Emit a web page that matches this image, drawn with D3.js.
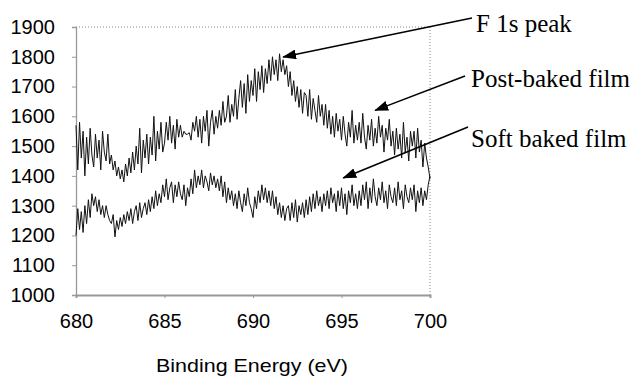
<!DOCTYPE html>
<html>
<head>
<meta charset="utf-8">
<script src="https://cdn.jsdelivr.net/npm/d3@7/dist/d3.min.js"></script>
<style>
  html, body { margin: 0; padding: 0; background: #fff; }
  svg { display: block; }
</style>
</head>
<body>
<div id="chart"></div>
<script>
// binding energy, 680 to 700 eV in 0.1 eV steps
const energies = d3.range(0, 201).map(i => 680 + i / 10);

const xTicks = [680, 685, 690, 695, 700];
const yTicks = [1000, 1100, 1200, 1300, 1400, 1500, 1600, 1700, 1800, 1900];

// post-baked film (upper trace, with F 1s peak)
const postBaked = [
  1570, 1420, 1580, 1460, 1550, 1400, 1530, 1440, 1560, 1470,
  1430, 1540, 1460, 1520, 1420, 1550, 1480, 1450, 1540, 1440,
  1470, 1420, 1450, 1400, 1430, 1390, 1420, 1380, 1440, 1400,
  1460, 1410, 1480, 1420, 1500, 1440, 1560, 1410, 1520, 1460,
  1540, 1440, 1530, 1470, 1600, 1450, 1550, 1490, 1580, 1480,
  1510, 1580, 1520, 1600, 1510, 1570, 1490, 1590, 1530, 1570,
  1530, 1550, 1540, 1540, 1545, 1520, 1580, 1550, 1600, 1530,
  1590, 1510, 1600, 1550, 1620, 1500, 1580, 1620, 1540, 1600,
  1560, 1620, 1570, 1650, 1580, 1600, 1670, 1580, 1640, 1600,
  1690, 1590, 1660, 1720, 1630, 1710, 1610, 1740, 1650, 1720,
  1670, 1760, 1650, 1750, 1690, 1770, 1680, 1760, 1710, 1790,
  1720, 1800, 1740, 1790, 1720, 1810, 1750, 1790, 1740, 1770,
  1700, 1750, 1670, 1720, 1650, 1700, 1630, 1690, 1610, 1680,
  1670, 1600, 1690, 1590, 1660, 1620, 1580, 1670, 1600, 1640,
  1570, 1640, 1560, 1620, 1540, 1600, 1530, 1610, 1550, 1590,
  1520, 1600, 1540, 1500, 1580, 1530, 1620, 1510, 1570, 1520,
  1580, 1510, 1610, 1530, 1490, 1570, 1520, 1590, 1500, 1560,
  1510, 1600, 1530, 1570, 1480, 1560, 1520, 1590, 1500, 1550,
  1470, 1560, 1490, 1540, 1460, 1580, 1480, 1530, 1450, 1550,
  1500, 1550, 1460, 1560, 1480, 1520, 1430, 1510, 1460, 1430,
  1390
];

// soft baked film (lower trace)
const softBaked = [
  1200, 1290, 1220, 1280, 1210, 1300, 1240, 1320, 1260, 1340,
  1300, 1330, 1280, 1320, 1270, 1300, 1260, 1300, 1270, 1250,
  1240, 1270, 1195, 1250, 1220, 1260, 1230, 1270, 1240, 1280,
  1250, 1290, 1240, 1280, 1300, 1250, 1310, 1260, 1290, 1310,
  1270, 1320, 1280, 1330, 1290, 1350, 1300, 1340, 1310, 1370,
  1330, 1390, 1320, 1360, 1380, 1310, 1370, 1330, 1380, 1340,
  1320, 1370, 1300, 1360, 1330, 1390, 1340, 1420, 1360, 1400,
  1370, 1420, 1360, 1400, 1380, 1350, 1410, 1370, 1400, 1360,
  1390, 1350, 1400, 1330, 1380, 1310, 1360, 1320, 1350, 1300,
  1340, 1290, 1350, 1310, 1280, 1340, 1300, 1360, 1310, 1290,
  1260, 1330, 1290, 1350, 1310, 1370, 1320, 1360, 1310, 1350,
  1300, 1350, 1290, 1330, 1270, 1310, 1260, 1300, 1250, 1290,
  1300, 1250, 1310, 1260, 1320, 1245, 1300, 1270, 1310, 1260,
  1320, 1270, 1330, 1280, 1340, 1290, 1350, 1300, 1330, 1280,
  1340, 1300, 1350, 1290, 1360, 1310, 1340, 1280, 1350, 1300,
  1360, 1290, 1340, 1270, 1350, 1310, 1370, 1300, 1340, 1290,
  1350, 1300, 1370, 1320, 1380, 1290, 1360, 1310, 1390, 1330,
  1300, 1360, 1320, 1380, 1310, 1350, 1290, 1370, 1330, 1310,
  1360, 1300, 1380, 1320, 1350, 1290, 1370, 1330, 1310, 1360,
  1320, 1370, 1280, 1350, 1310, 1360, 1300, 1350, 1320, 1370,
  1400
];

// annotations: label text and arrow tip in data units
const notes = [
  { label: 'F 1s peak',        tipE: 691.7, tipY: 1799, tx: 476, ty: 32,  sx: 472, sy: 18 },
  { label: 'Post-baked film',  tipE: 696.9, tipY: 1620, tx: 471, ty: 87,  sx: 465, sy: 76 },
  { label: 'Soft baked film',  tipE: 695.1, tipY: 1393, tx: 471, ty: 147, sx: 468, sy: 127 }
];

const W = 633, H = 377;
const margin = { top: 27, right: 203, bottom: 82, left: 76 };
const width = W - margin.left - margin.right;
const height = H - margin.top - margin.bottom;

const svg = d3.select('#chart').append('svg')
  .attr('width', W)
  .attr('height', H);

svg.append('defs').append('marker')
  .attr('id', 'head')
  .attr('viewBox', '0 0 14 10')
  .attr('refX', 13)
  .attr('refY', 5)
  .attr('markerWidth', 14)
  .attr('markerHeight', 10)
  .attr('markerUnits', 'userSpaceOnUse')
  .attr('orient', 'auto')
  .append('path')
  .attr('d', 'M0,0 L14,5 L0,10 Z')
  .attr('fill', '#000');

const g = svg.append('g')
  .attr('transform', `translate(${margin.left},${margin.top})`);

const x = d3.scaleLinear().domain([680, 700]).range([0, width]);
const y = d3.scaleLinear().domain([1000, 1900]).range([height, 0]);

// dotted frame on top and right
g.append('path')
  .attr('d', `M0,0 H${width} V${height}`)
  .attr('fill', 'none')
  .attr('stroke', '#888')
  .attr('stroke-width', 1)
  .attr('stroke-dasharray', '1,2');

const sans = '"Liberation Sans", Arial, sans-serif';

const yAxis = g.append('g')
  .call(d3.axisLeft(y).tickValues(yTicks).tickSize(4).tickPadding(17).tickFormat(d3.format('d')));
yAxis.select('.domain').attr('stroke', '#999').attr('stroke-width', 1.3);
yAxis.selectAll('.tick line').attr('stroke', '#999');
yAxis.selectAll('text')
  .style('font-family', sans)
  .style('font-size', '20px')
  .attr('fill', '#000');

const xAxis = g.append('g')
  .attr('transform', `translate(0,${height})`)
  .call(d3.axisBottom(x).tickValues(xTicks).tickSize(3).tickPadding(16).tickFormat(d3.format('d')));
xAxis.select('.domain').attr('stroke', '#999').attr('stroke-width', 2);
xAxis.selectAll('.tick line').attr('stroke', '#999');
xAxis.selectAll('text')
  .style('font-family', sans)
  .style('font-size', '20px')
  .attr('fill', '#000');

g.append('text')
  .attr('x', width / 2 - 1)
  .attr('y', height + 77)
  .attr('text-anchor', 'middle')
  .attr('textLength', 192)
  .attr('lengthAdjust', 'spacingAndGlyphs')
  .style('font-family', sans)
  .style('font-size', '19px')
  .text('Binding Energy (eV)');

const line = d3.line()
  .x((d, i) => x(energies[i]))
  .y(d => y(d));

[softBaked, postBaked].forEach(series => {
  g.append('path')
    .datum(series)
    .attr('fill', 'none')
    .attr('stroke', '#111')
    .attr('stroke-width', 1)
    .attr('d', line);
});

// arrows and labels
notes.forEach(n => {
  svg.append('line')
    .attr('x1', n.sx).attr('y1', n.sy)
    .attr('x2', margin.left + x(n.tipE))
    .attr('y2', margin.top + y(n.tipY))
    .attr('stroke', '#000')
    .attr('stroke-width', 1.6)
    .attr('marker-end', 'url(#head)');

  svg.append('text')
    .attr('x', n.tx)
    .attr('y', n.ty)
    .style('font-family', '"Liberation Serif", "Times New Roman", serif')
    .style('font-size', '25px')
    .text(n.label);
});
</script>
</body>
</html>
